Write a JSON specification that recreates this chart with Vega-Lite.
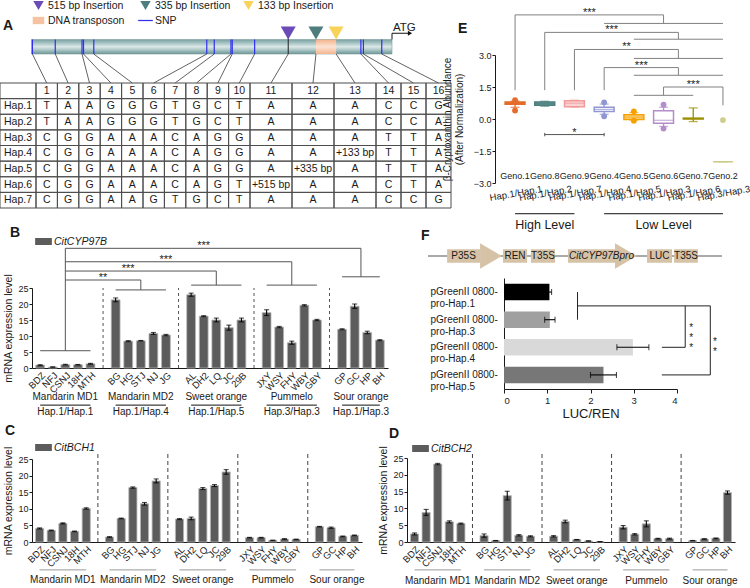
{
"$schema":"https://vega.github.io/schema/vega-lite/v6.json",
"width":750,"height":588,
"autosize":{"type":"none"},
"padding":0,
"background":"white",
"config":{
 "font":"Arial",
 "view":{"stroke":null},
 "axis":{"labelFont":"Arial","titleFont":"Arial","labelColor":"#1a1a1a","titleColor":"#1a1a1a","domainColor":"#1a1a1a","tickColor":"#1a1a1a","titleFontWeight":"normal","grid":false},
 "legend":{"labelFont":"Arial","labelColor":"#1a1a1a"},
 "text":{"font":"Arial","color":"#1a1a1a"}
},
"datasets":{
 "snps":[
  {"snp":1,"pos":0.40,"kind":"SNP"},{"snp":2,"pos":1.40,"kind":"SNP"},{"snp":3,"pos":2.65,"kind":"SNP"},{"snp":4,"pos":2.72,"kind":"SNP"},
  {"snp":5,"pos":3.20,"kind":"SNP"},{"snp":6,"pos":8.48,"kind":"SNP"},{"snp":7,"pos":8.83,"kind":"SNP"},{"snp":8,"pos":9.61,"kind":"SNP"},
  {"snp":9,"pos":9.67,"kind":"SNP"},{"snp":10,"pos":10.61,"kind":"SNP"},{"snp":11,"pos":11.41,"kind":"515 bp Insertion"},{"snp":12,"pos":12.07,"kind":"335 bp Insertion"},
  {"snp":13,"pos":12.55,"kind":"133 bp Insertion"},{"snp":14,"pos":13.14,"kind":"SNP"},{"snp":15,"pos":13.20,"kind":"SNP"},{"snp":16,"pos":13.73,"kind":"SNP"}
 ],
 "cells":[
  {"h":"Hap.1","s":1,"a":"T"},{"h":"Hap.1","s":2,"a":"A"},{"h":"Hap.1","s":3,"a":"A"},{"h":"Hap.1","s":4,"a":"G"},{"h":"Hap.1","s":5,"a":"G"},{"h":"Hap.1","s":6,"a":"G"},{"h":"Hap.1","s":7,"a":"T"},{"h":"Hap.1","s":8,"a":"G"},{"h":"Hap.1","s":9,"a":"C"},{"h":"Hap.1","s":10,"a":"T"},{"h":"Hap.1","s":11,"a":"A"},{"h":"Hap.1","s":12,"a":"A"},{"h":"Hap.1","s":13,"a":"A"},{"h":"Hap.1","s":14,"a":"C"},{"h":"Hap.1","s":15,"a":"C"},{"h":"Hap.1","s":16,"a":"G"},
  {"h":"Hap.2","s":1,"a":"T"},{"h":"Hap.2","s":2,"a":"A"},{"h":"Hap.2","s":3,"a":"A"},{"h":"Hap.2","s":4,"a":"G"},{"h":"Hap.2","s":5,"a":"G"},{"h":"Hap.2","s":6,"a":"G"},{"h":"Hap.2","s":7,"a":"T"},{"h":"Hap.2","s":8,"a":"G"},{"h":"Hap.2","s":9,"a":"C"},{"h":"Hap.2","s":10,"a":"T"},{"h":"Hap.2","s":11,"a":"A"},{"h":"Hap.2","s":12,"a":"A"},{"h":"Hap.2","s":13,"a":"A"},{"h":"Hap.2","s":14,"a":"C"},{"h":"Hap.2","s":15,"a":"C"},{"h":"Hap.2","s":16,"a":"A"},
  {"h":"Hap.3","s":1,"a":"C"},{"h":"Hap.3","s":2,"a":"G"},{"h":"Hap.3","s":3,"a":"G"},{"h":"Hap.3","s":4,"a":"A"},{"h":"Hap.3","s":5,"a":"A"},{"h":"Hap.3","s":6,"a":"A"},{"h":"Hap.3","s":7,"a":"C"},{"h":"Hap.3","s":8,"a":"A"},{"h":"Hap.3","s":9,"a":"G"},{"h":"Hap.3","s":10,"a":"G"},{"h":"Hap.3","s":11,"a":"A"},{"h":"Hap.3","s":12,"a":"A"},{"h":"Hap.3","s":13,"a":"A"},{"h":"Hap.3","s":14,"a":"T"},{"h":"Hap.3","s":15,"a":"T"},{"h":"Hap.3","s":16,"a":"A"},
  {"h":"Hap.4","s":1,"a":"C"},{"h":"Hap.4","s":2,"a":"G"},{"h":"Hap.4","s":3,"a":"G"},{"h":"Hap.4","s":4,"a":"A"},{"h":"Hap.4","s":5,"a":"A"},{"h":"Hap.4","s":6,"a":"A"},{"h":"Hap.4","s":7,"a":"C"},{"h":"Hap.4","s":8,"a":"A"},{"h":"Hap.4","s":9,"a":"G"},{"h":"Hap.4","s":10,"a":"G"},{"h":"Hap.4","s":11,"a":"A"},{"h":"Hap.4","s":12,"a":"A"},{"h":"Hap.4","s":13,"a":"+133 bp"},{"h":"Hap.4","s":14,"a":"T"},{"h":"Hap.4","s":15,"a":"T"},{"h":"Hap.4","s":16,"a":"A"},
  {"h":"Hap.5","s":1,"a":"C"},{"h":"Hap.5","s":2,"a":"G"},{"h":"Hap.5","s":3,"a":"G"},{"h":"Hap.5","s":4,"a":"A"},{"h":"Hap.5","s":5,"a":"A"},{"h":"Hap.5","s":6,"a":"A"},{"h":"Hap.5","s":7,"a":"C"},{"h":"Hap.5","s":8,"a":"A"},{"h":"Hap.5","s":9,"a":"G"},{"h":"Hap.5","s":10,"a":"G"},{"h":"Hap.5","s":11,"a":"A"},{"h":"Hap.5","s":12,"a":"+335 bp"},{"h":"Hap.5","s":13,"a":"A"},{"h":"Hap.5","s":14,"a":"T"},{"h":"Hap.5","s":15,"a":"T"},{"h":"Hap.5","s":16,"a":"A"},
  {"h":"Hap.6","s":1,"a":"C"},{"h":"Hap.6","s":2,"a":"G"},{"h":"Hap.6","s":3,"a":"G"},{"h":"Hap.6","s":4,"a":"A"},{"h":"Hap.6","s":5,"a":"A"},{"h":"Hap.6","s":6,"a":"A"},{"h":"Hap.6","s":7,"a":"C"},{"h":"Hap.6","s":8,"a":"A"},{"h":"Hap.6","s":9,"a":"G"},{"h":"Hap.6","s":10,"a":"T"},{"h":"Hap.6","s":11,"a":"+515 bp"},{"h":"Hap.6","s":12,"a":"A"},{"h":"Hap.6","s":13,"a":"A"},{"h":"Hap.6","s":14,"a":"C"},{"h":"Hap.6","s":15,"a":"T"},{"h":"Hap.6","s":16,"a":"A"},
  {"h":"Hap.7","s":1,"a":"C"},{"h":"Hap.7","s":2,"a":"G"},{"h":"Hap.7","s":3,"a":"G"},{"h":"Hap.7","s":4,"a":"A"},{"h":"Hap.7","s":5,"a":"A"},{"h":"Hap.7","s":6,"a":"G"},{"h":"Hap.7","s":7,"a":"T"},{"h":"Hap.7","s":8,"a":"G"},{"h":"Hap.7","s":9,"a":"C"},{"h":"Hap.7","s":10,"a":"T"},{"h":"Hap.7","s":11,"a":"A"},{"h":"Hap.7","s":12,"a":"A"},{"h":"Hap.7","s":13,"a":"A"},{"h":"Hap.7","s":14,"a":"C"},{"h":"Hap.7","s":15,"a":"C"},{"h":"Hap.7","s":16,"a":"G"}
 ],
 "haps":[{"h":"Hap.1"},{"h":"Hap.2"},{"h":"Hap.3"},{"h":"Hap.4"},{"h":"Hap.5"},{"h":"Hap.6"},{"h":"Hap.7"}],
 "ebox":[
  {"geno":"Geno.1","hap":"Hap.1/Hap.1","lo":0.55,"q1":0.69,"md":0.75,"q3":0.80,"hi":0.84},
  {"geno":"Geno.8","hap":"Hap.1/Hap.2","lo":0.60,"q1":0.64,"md":0.72,"q3":0.80,"hi":0.83},
  {"geno":"Geno.9","hap":"Hap.1/Hap.7","lo":0.56,"q1":0.58,"md":0.74,"q3":0.86,"hi":0.88},
  {"geno":"Geno.4","hap":"Hap.1/Hap.4","lo":0.22,"q1":0.35,"md":0.45,"q3":0.55,"hi":0.70},
  {"geno":"Geno.5","hap":"Hap.1/Hap.5","lo":-0.05,"q1":-0.02,"md":0.09,"q3":0.20,"hi":0.30},
  {"geno":"Geno.6","hap":"Hap.1/Hap.3","lo":-0.35,"q1":-0.20,"md":-0.06,"q3":0.39,"hi":0.55},
  {"geno":"Geno.7","hap":"Hap.1/Hap.6","lo":-0.12,"q1":0.0,"md":0.02,"q3":0.04,"hi":0.52},
  {"geno":"Geno.2","hap":"Hap.3/Hap.3","lo":-2.0,"q1":-2.0,"md":-2.0,"q3":-2.0,"hi":-2.0}
 ],
 "eout":[
  {"geno":"Geno.1","hap":"Hap.1/Hap.1","v":0.88},{"geno":"Geno.1","hap":"Hap.1/Hap.1","v":0.40},
  {"geno":"Geno.4","hap":"Hap.1/Hap.4","v":0.78},{"geno":"Geno.4","hap":"Hap.1/Hap.4","v":0.13},
  {"geno":"Geno.5","hap":"Hap.1/Hap.5","v":0.36},{"geno":"Geno.5","hap":"Hap.1/Hap.5","v":-0.08},
  {"geno":"Geno.6","hap":"Hap.1/Hap.3","v":0.67},{"geno":"Geno.6","hap":"Hap.1/Hap.3","v":-0.45},
  {"geno":"Geno.2","hap":"Hap.3/Hap.3","v":-0.05}
 ],
 "elev":[
  {"level":"High Level","from":"Hap.1/Hap.1","to":"Hap.1/Hap.7","mid":"Hap.1/Hap.2"},
  {"level":"Low Level","from":"Hap.1/Hap.4","to":"Hap.3/Hap.3","mid":"Hap.1/Hap.3"}
 ],
 "ebrk":[
  {"s":1,"g1":4,"g2":8,"h":4.88,"sl":1.35,"gl":4.48,"t":"***"},
  {"s":2,"g1":5,"g2":8,"h":4.06,"sl":1.35,"gl":3.74,"t":"***"},
  {"s":3,"g1":5,"g2":8,"h":3.26,"sl":1.35,"gl":2.84,"t":"**"},
  {"s":4,"g1":5,"g2":8,"h":2.41,"sl":1.35,"gl":2.05,"t":"***"},
  {"s":8,"g1":5,"g2":7,"h":1.50,"sl":0.64,"gl":1.11,"t":"***"}
 ],
 "expr":[
  {"gene":"CitCYP97B","cv":"BDZ","v":0.9,"e":0.1},{"gene":"CitCYP97B","cv":"NFJ","v":0.3,"e":0.05},{"gene":"CitCYP97B","cv":"CSNJ","v":1.05,"e":0.1},{"gene":"CitCYP97B","cv":"18H","v":1.0,"e":0.1},{"gene":"CitCYP97B","cv":"MTH","v":1.3,"e":0.15},
  {"gene":"CitCYP97B","cv":"BG","v":21.3,"e":0.6},{"gene":"CitCYP97B","cv":"HG","v":8.4,"e":0.15},{"gene":"CitCYP97B","cv":"STJ","v":8.5,"e":0.1},{"gene":"CitCYP97B","cv":"NJ","v":10.8,"e":0.3},{"gene":"CitCYP97B","cv":"JG","v":10.3,"e":0.2},
  {"gene":"CitCYP97B","cv":"AL","v":22.9,"e":0.5},{"gene":"CitCYP97B","cv":"DH2","v":16.2,"e":0.15},{"gene":"CitCYP97B","cv":"LQ","v":15.0,"e":0.6},{"gene":"CitCYP97B","cv":"JC","v":12.6,"e":0.8},{"gene":"CitCYP97B","cv":"29B","v":15.0,"e":0.6},
  {"gene":"CitCYP97B","cv":"JXY","v":17.3,"e":0.9},{"gene":"CitCYP97B","cv":"WSY","v":12.8,"e":0.2},{"gene":"CitCYP97B","cv":"FHY","v":7.9,"e":0.5},{"gene":"CitCYP97B","cv":"WBY","v":19.6,"e":0.2},{"gene":"CitCYP97B","cv":"GBY","v":15.0,"e":0.2},
  {"gene":"CitCYP97B","cv":"GP","v":12.1,"e":0.15},{"gene":"CitCYP97B","cv":"GC","v":19.3,"e":0.7},{"gene":"CitCYP97B","cv":"HP","v":11.1,"e":0.4},{"gene":"CitCYP97B","cv":"BH","v":8.7,"e":0.15},
  {"gene":"CitBCH1","cv":"BDZ","v":4.1,"e":0.15},{"gene":"CitBCH1","cv":"NFJ","v":3.5,"e":0.1},{"gene":"CitBCH1","cv":"CSNJ","v":5.6,"e":0.15},{"gene":"CitBCH1","cv":"18H","v":3.2,"e":0.1},{"gene":"CitBCH1","cv":"MTH","v":10.1,"e":0.2},
  {"gene":"CitBCH1","cv":"BG","v":1.5,"e":0.1},{"gene":"CitBCH1","cv":"HG","v":7.1,"e":0.1},{"gene":"CitBCH1","cv":"STJ","v":16.4,"e":0.2},{"gene":"CitBCH1","cv":"NJ","v":11.5,"e":0.4},{"gene":"CitBCH1","cv":"JG","v":18.4,"e":0.6},
  {"gene":"CitBCH1","cv":"AL","v":6.9,"e":0.15},{"gene":"CitBCH1","cv":"DH2","v":7.1,"e":0.4},{"gene":"CitBCH1","cv":"LQ","v":16.1,"e":0.3},{"gene":"CitBCH1","cv":"JC","v":17.0,"e":0.3},{"gene":"CitBCH1","cv":"29B","v":21.1,"e":0.7},
  {"gene":"CitBCH1","cv":"JXY","v":1.3,"e":0.1},{"gene":"CitBCH1","cv":"WSY","v":1.3,"e":0.1},{"gene":"CitBCH1","cv":"FHY","v":0.5,"e":0.05},{"gene":"CitBCH1","cv":"WBY","v":0.9,"e":0.1},{"gene":"CitBCH1","cv":"GBY","v":0.8,"e":0.05},
  {"gene":"CitBCH1","cv":"GP","v":4.6,"e":0.1},{"gene":"CitBCH1","cv":"GC","v":4.3,"e":0.2},{"gene":"CitBCH1","cv":"HP","v":1.7,"e":0.1},{"gene":"CitBCH1","cv":"BH","v":2.0,"e":0.1},
  {"gene":"CitBCH2","cv":"BDZ","v":2.4,"e":0.3},{"gene":"CitBCH2","cv":"NFJ","v":8.8,"e":0.9},{"gene":"CitBCH2","cv":"CSNJ","v":23.2,"e":0.2},{"gene":"CitBCH2","cv":"18H","v":6.0,"e":0.3},{"gene":"CitBCH2","cv":"MTH","v":5.5,"e":0.15},
  {"gene":"CitBCH2","cv":"BG","v":1.9,"e":0.5},{"gene":"CitBCH2","cv":"HG","v":0.4,"e":0.05},{"gene":"CitBCH2","cv":"STJ","v":13.8,"e":1.3},{"gene":"CitBCH2","cv":"NJ","v":2.0,"e":0.2},{"gene":"CitBCH2","cv":"JG","v":1.7,"e":0.15},
  {"gene":"CitBCH2","cv":"AL","v":1.7,"e":0.2},{"gene":"CitBCH2","cv":"DH2","v":6.1,"e":0.4},{"gene":"CitBCH2","cv":"LQ","v":0.7,"e":0.05},{"gene":"CitBCH2","cv":"JC","v":0.3,"e":0.05},{"gene":"CitBCH2","cv":"29B","v":0.1,"e":0.02},
  {"gene":"CitBCH2","cv":"JXY","v":4.4,"e":0.5},{"gene":"CitBCH2","cv":"WSY","v":2.3,"e":0.2},{"gene":"CitBCH2","cv":"FHY","v":5.4,"e":0.9},{"gene":"CitBCH2","cv":"WBY","v":1.0,"e":0.1},{"gene":"CitBCH2","cv":"GBY","v":1.0,"e":0.15},
  {"gene":"CitBCH2","cv":"GP","v":0.4,"e":0.05},{"gene":"CitBCH2","cv":"GC","v":0.9,"e":0.1},{"gene":"CitBCH2","cv":"HP","v":1.1,"e":0.1},{"gene":"CitBCH2","cv":"BH","v":14.7,"e":0.5}
 ],
 "seps":[{"sep":" "},{"sep":"  "},{"sep":"   "},{"sep":"    "}],
 "groups":[
  {"group":"Mandarin MD1","hap":"Hap.1/Hap.1","g1":"BDZ","mid":"CSNJ","g2":"MTH","n":5},
  {"group":"Mandarin MD2","hap":"Hap.1/Hap.4","g1":"BG","mid":"STJ","g2":"JG","n":5},
  {"group":"Sweet orange","hap":"Hap.1/Hap.5","g1":"AL","mid":"LQ","g2":"29B","n":5},
  {"group":"Pummelo","hap":"Hap.3/Hap.3","g1":"JXY","mid":"FHY","g2":"GBY","n":5},
  {"group":"Sour orange","hap":"Hap.1/Hap.3","g1":"GP","mid":"GC","g2":"BH","n":4}
 ],
 "bbrk":[
  {"s":"CSNJ","c":"GC","n":4,"h":37.4,"gl":28.5,"g1":"GP","g2":"BH","t":"***","ta":"DH2"},
  {"s":"CSNJ","c":"FHY","n":5,"h":33.2,"gl":25.9,"g1":"JXY","g2":"GBY","t":"***","ta":"JG"},
  {"s":"CSNJ","c":"LQ","n":5,"h":30.3,"gl":25.9,"g1":"AL","g2":"29B","t":"***","ta":"HG"},
  {"s":"CSNJ","c":"STJ","n":5,"h":27.5,"gl":24.4,"g1":"BG","g2":"JG","t":"**","ta":" "}
 ],
 "luc":[
  {"con":"pGreenII 0800-pro-Hap.1","m":1.05,"e":0.05},
  {"con":"pGreenII 0800-pro-Hap.3","m":1.06,"e":0.12},
  {"con":"pGreenII 0800-pro-Hap.4","m":2.98,"e":0.37},
  {"con":"pGreenII 0800-pro-Hap.5","m":2.3,"e":0.3}
 ],
 "fparts":[
  {"part":"P35S","kind":"promoter","start":6.5,"end":17.7},
  {"part":"REN","kind":"gene","start":25.5,"end":33.7},
  {"part":"T35S","kind":"terminator","start":35,"end":43.2},
  {"part":"CitCYP97Bpro","kind":"promoter","start":47.6,"end":63.6},
  {"part":"LUC","kind":"gene","start":74.5,"end":83},
  {"part":"T35S","kind":"terminator","start":83.7,"end":91.8}
 ]
},
"resolve":{"scale":{"x":"independent","y":"independent","color":"independent","fill":"independent","stroke":"independent","shape":"independent"},"axis":{"x":"independent","y":"independent"},"legend":{"color":"independent","shape":"independent","fill":"independent","stroke":"independent"}},
"layer":[
 {"layer":[
   {"data":{"values":[{"part":"promoter","start":0.375,"end":14.14}]},
    "mark":{"type":"rect","fill":{"gradient":"linear","x1":0,"y1":0,"x2":0,"y2":1,"stops":[{"offset":0,"color":"#76a0a0"},{"offset":0.25,"color":"#a8c4c4"},{"offset":0.5,"color":"#dce8e8"},{"offset":0.78,"color":"#9ebcbc"},{"offset":1,"color":"#6a9494"}]},"stroke":"#7e9f9f","strokeWidth":0.6},
    "encoding":{
     "x":{"field":"start","type":"quantitative","scale":{"type":"linear","domain":[-0.5,0.5,10.5,13.5,16.5],"range":[0,36,250,376,451],"nice":false,"zero":false},"axis":null},
     "x2":{"field":"end"},
     "y":{"datum":1,"type":"quantitative","scale":{"domain":[0,4],"range":[25,83],"nice":false,"zero":false},"axis":null},
     "y2":{"datum":2}}},
   {"data":{"values":[{"part":"DNA transposon","start":12.07,"end":12.55}]},
    "mark":{"type":"rect","fill":{"gradient":"linear","x1":0,"y1":0,"x2":0,"y2":1,"stops":[{"offset":0,"color":"#f2b38c"},{"offset":0.5,"color":"#fde3d3"},{"offset":1,"color":"#f2b58f"}]}},
    "encoding":{"x":{"field":"start","type":"quantitative"},"x2":{"field":"end"},"y":{"datum":1,"type":"quantitative"},"y2":{"datum":2}}},
   {"data":{"name":"snps"},"transform":[{"filter":"datum.kind == 'SNP'"}],
    "mark":{"type":"rule","color":"#3030ee","strokeWidth":1.2},
    "encoding":{"x":{"field":"pos","type":"quantitative"},"y":{"datum":1,"type":"quantitative"},"y2":{"datum":2}}},
   {"data":{"name":"snps"},
    "mark":{"type":"rule","color":"#3a3a3a","strokeWidth":0.8},
    "encoding":{"x":{"field":"pos","type":"quantitative"},"x2":{"field":"snp"},"y":{"datum":2,"type":"quantitative"},"y2":{"datum":4}}},
   {"data":{"name":"snps"},"transform":[{"filter":"datum.kind == '515 bp Insertion'"}],
    "mark":{"type":"rule","color":"#222222","strokeWidth":1},
    "encoding":{"x":{"field":"pos","type":"quantitative"},"y":{"datum":0.6,"type":"quantitative"},"y2":{"datum":2}}},
   {"data":{"name":"snps"},"transform":[{"filter":"datum.kind != 'SNP'"}],
    "mark":{"type":"point","filled":true,"opacity":1,"size":225,"strokeWidth":0},
    "encoding":{
     "x":{"field":"pos","type":"quantitative"},
     "y":{"datum":0.55,"type":"quantitative"},
     "color":{"field":"kind","type":"nominal","scale":{"domain":["515 bp Insertion","335 bp Insertion","133 bp Insertion","DNA transposon","SNP"],"range":["#6b4bb8","#4f7d7d","#f8d35a","#f5c2a2","#3030ee"]},
      "legend":{"title":null,"orient":"none","legendX":33,"legendY":0,"direction":"horizontal","columns":3,"symbolSize":110,"labelFontSize":10.5,"columnPadding":12,"rowPadding":4,"labelOffset":4,"padding":0,"symbolStrokeWidth":0}},
     "shape":{"field":"kind","type":"nominal","scale":{"domain":["515 bp Insertion","335 bp Insertion","133 bp Insertion","DNA transposon","SNP"],"range":["triangle-down","triangle-down","triangle-down","M-1.1,-0.7H1.1V0.7H-1.1Z","M-1.4,-0.12H1.4V0.12H-1.4Z"]},
      "legend":{"title":null,"orient":"none","legendX":33,"legendY":0,"direction":"horizontal","columns":3,"symbolSize":110,"labelFontSize":10.5,"columnPadding":12,"rowPadding":4,"labelOffset":4,"padding":0,"symbolStrokeWidth":0}}}},
   {"data":{"values":[{"label":"ATG","start":14.14,"end":14.86}]},
    "layer":[
     {"mark":{"type":"rule","color":"#111111","strokeWidth":1},"encoding":{"x":{"field":"start","type":"quantitative"},"y":{"datum":1,"type":"quantitative"},"y2":{"datum":0.57}}},
     {"mark":{"type":"rule","color":"#111111","strokeWidth":1},"encoding":{"x":{"field":"start","type":"quantitative"},"x2":{"field":"end"},"y":{"datum":0.57,"type":"quantitative"}}},
     {"mark":{"type":"point","shape":"triangle-right","filled":true,"color":"#111111","opacity":1,"size":24},"encoding":{"x":{"field":"end","type":"quantitative"},"y":{"datum":0.57,"type":"quantitative"}}},
     {"mark":{"type":"text","fontSize":11.5,"align":"left","baseline":"alphabetic","dx":1},"encoding":{"x":{"field":"start","type":"quantitative"},"y":{"datum":0.42,"type":"quantitative"},"text":{"field":"label"}}}
    ]},
   {"data":{"values":[{"panel":"A"}]},"mark":{"type":"text","fontSize":14,"fontWeight":"bold","align":"left","baseline":"alphabetic"},
    "encoding":{"x":{"datum":-0.417,"type":"quantitative"},"y":{"datum":0.345,"type":"quantitative"},"text":{"field":"panel"}}}
 ]},
 {"layer":[
   {"data":{"name":"cells"},"transform":[{"calculate":"datum.s - 0.5","as":"x0"},{"calculate":"datum.s + 0.5","as":"x1"}],
    "mark":{"type":"rect","filled":false,"color":"#4d4d4d","strokeWidth":1},
    "encoding":{
     "x":{"field":"x0","type":"quantitative","scale":{"type":"linear","domain":[-0.5,0.5,10.5,13.5,16.5],"range":[0,36,250,376,451],"nice":false,"zero":false},"axis":null},
     "x2":{"field":"x1"},
     "y":{"field":"h","type":"ordinal","scale":{"domain":["#","Hap.1","Hap.2","Hap.3","Hap.4","Hap.5","Hap.6","Hap.7"],"range":[83,208],"paddingInner":0,"paddingOuter":0},"axis":null}}},
   {"data":{"name":"snps"},"transform":[{"calculate":"datum.snp - 0.5","as":"x0"},{"calculate":"datum.snp + 0.5","as":"x1"}],
    "mark":{"type":"rect","filled":false,"color":"#4d4d4d","strokeWidth":1},
    "encoding":{"x":{"field":"x0","type":"quantitative"},"x2":{"field":"x1"},"y":{"datum":"#","type":"ordinal"}}},
   {"data":{"name":"haps"},
    "mark":{"type":"rect","filled":false,"color":"#4d4d4d","strokeWidth":1},
    "encoding":{"x":{"datum":-0.5,"type":"quantitative"},"x2":{"datum":0.5},"y":{"field":"h","type":"ordinal"}}},
   {"data":{"values":[{"c":"#"}]},
    "mark":{"type":"rect","filled":false,"color":"#4d4d4d","strokeWidth":1},
    "encoding":{"x":{"datum":-0.5,"type":"quantitative"},"x2":{"datum":0.5},"y":{"field":"c","type":"ordinal"}}},
   {"data":{"name":"cells"},"mark":{"type":"text","fontSize":10.5,"baseline":"middle"},
    "encoding":{"x":{"field":"s","type":"quantitative"},"y":{"field":"h","type":"ordinal"},"text":{"field":"a"}}},
   {"data":{"name":"snps"},"mark":{"type":"text","fontSize":10.5,"baseline":"middle"},
    "encoding":{"x":{"field":"snp","type":"quantitative"},"y":{"datum":"#","type":"ordinal"},"text":{"field":"snp"}}},
   {"data":{"name":"haps"},"mark":{"type":"text","fontSize":10.5,"baseline":"middle"},
    "encoding":{"x":{"datum":0,"type":"quantitative"},"y":{"field":"h","type":"ordinal"},"text":{"field":"h"}}}
 ]},
 {"layer":[
   {"layer":[
    {"data":{"name":"ebox"},
     "layer":[
      {"mark":{"type":"rule","strokeWidth":1.3},
       "encoding":{
        "x":{"field":"hap","type":"nominal","scale":{"domain":["Hap.1/Hap.1","Hap.1/Hap.2","Hap.1/Hap.7","Hap.1/Hap.4","Hap.1/Hap.5","Hap.1/Hap.3","Hap.1/Hap.6","Hap.3/Hap.3"],"range":[495,743],"paddingInner":0.33,"paddingOuter":0.34},
             "axis":{"orient":"bottom","offset":-405,"title":null,"labelAngle":-10,"labelAlign":"center","labelBaseline":"top","labelPadding":5,"labelFontSize":9.5,"ticks":false,"domain":false,"labelDx":-6}},
        "y":{"field":"lo","type":"quantitative","scale":{"domain":[-3,3],"range":[183,55],"nice":false,"zero":false},
             "axis":{"orient":"left","offset":-495,"values":[-3,-1.5,0,1.5,3],"format":".1f","title":["β-Cryptoxanthin Abundance","(After Normalization)"],"titleFontSize":10,"titleLineHeight":12,"labelFontSize":9,"tickSize":3,"labelPadding":1,"titlePadding":9}},
        "y2":{"field":"hi"},
        "color":{"field":"geno","type":"nominal","scale":{"domain":["Geno.1","Geno.8","Geno.9","Geno.4","Geno.5","Geno.6","Geno.7","Geno.2"],"range":["#e46c2c","#4e7f7f","#f09a9a","#9096d2","#f5a100","#b48ecb","#9c9000","#cdcd8c"]},"legend":null}}},
      {"mark":{"type":"tick","thickness":1.3,"size":9},"encoding":{"x":{"field":"hap","type":"nominal"},"y":{"field":"hi","type":"quantitative"},"color":{"field":"geno","type":"nominal"}}},
      {"mark":{"type":"tick","thickness":1.3,"size":9},"encoding":{"x":{"field":"hap","type":"nominal"},"y":{"field":"lo","type":"quantitative"},"color":{"field":"geno","type":"nominal"}}},
      {"mark":{"type":"bar","strokeWidth":1.5},
       "encoding":{"x":{"field":"hap","type":"nominal"},"y":{"field":"q1","type":"quantitative"},"y2":{"field":"q3"},
        "fill":{"field":"geno","type":"nominal","scale":{"domain":["Geno.1","Geno.8","Geno.9","Geno.4","Geno.5","Geno.6","Geno.7","Geno.2"],"range":["#e46c2c","#6a9696","#fcd3d3","#ffffff","#fbd590","#ffffff","#9c9000","#cdcd8c"]},"legend":null},
        "stroke":{"field":"geno","type":"nominal","scale":{"domain":["Geno.1","Geno.8","Geno.9","Geno.4","Geno.5","Geno.6","Geno.7","Geno.2"],"range":["#e46c2c","#4e7f7f","#f09a9a","#9096d2","#f5a100","#b48ecb","#9c9000","#cdcd8c"]},"legend":null}}},
      {"mark":{"type":"tick","thickness":1.2,"size":20},"encoding":{"x":{"field":"hap","type":"nominal"},"y":{"field":"md","type":"quantitative"},"color":{"field":"geno","type":"nominal"}}},
      {"mark":{"type":"text","fontSize":9,"baseline":"middle"},"encoding":{"x":{"field":"hap","type":"nominal"},"y":{"datum":-2.65,"type":"quantitative"},"text":{"field":"geno"}}}
     ]},
    {"data":{"name":"eout"},"mark":{"type":"point","filled":true,"opacity":1,"size":34},
     "encoding":{"x":{"field":"hap","type":"nominal"},"y":{"field":"v","type":"quantitative"},"color":{"field":"geno","type":"nominal"}}},
    {"data":{"name":"elev"},
     "layer":[
      {"mark":{"type":"rule","color":"#111111","strokeWidth":1},"encoding":{"x":{"field":"from","type":"nominal"},"x2":{"field":"to"},"y":{"datum":-4.44,"type":"quantitative"}}},
      {"mark":{"type":"text","fontSize":12.5,"baseline":"middle"},"encoding":{"x":{"field":"mid","type":"nominal"},"y":{"datum":-4.95,"type":"quantitative"},"text":{"field":"level"}}}
     ]}
   ]},
   {"layer":[
    {"data":{"name":"ebrk"},
     "transform":[{"calculate":"(datum.g1+datum.g2)/2","as":"c"},{"calculate":"(datum.s+datum.c)/2","as":"m"}],
     "layer":[
      {"mark":{"type":"rule","color":"#808080","strokeWidth":1},"encoding":{"x":{"field":"s","type":"quantitative","scale":{"domain":[0.325,8.675],"range":[495,743],"nice":false,"zero":false},"axis":null},"y":{"field":"h","type":"quantitative"},"y2":{"field":"sl"}}},
      {"mark":{"type":"rule","color":"#808080","strokeWidth":1},"encoding":{"x":{"field":"s","type":"quantitative"},"x2":{"field":"c"},"y":{"field":"h","type":"quantitative"}}},
      {"mark":{"type":"rule","color":"#808080","strokeWidth":1},"encoding":{"x":{"field":"c","type":"quantitative"},"y":{"field":"h","type":"quantitative"},"y2":{"field":"gl"}}},
      {"mark":{"type":"rule","color":"#808080","strokeWidth":1},"encoding":{"x":{"field":"g1","type":"quantitative"},"x2":{"field":"g2"},"y":{"field":"gl","type":"quantitative"}}},
      {"mark":{"type":"text","fontSize":11,"baseline":"alphabetic","dy":1},"encoding":{"x":{"field":"m","type":"quantitative"},"y":{"field":"h","type":"quantitative"},"text":{"field":"t"}}}
     ]},
    {"data":{"values":[{"s":2,"e":4,"h":-0.73,"c1":-0.65,"c2":-0.81,"t":"*"}]},
     "transform":[{"calculate":"(datum.s+datum.e)/2","as":"m"}],
     "layer":[
      {"mark":{"type":"rule","color":"#555555","strokeWidth":1},"encoding":{"x":{"field":"s","type":"quantitative"},"x2":{"field":"e"},"y":{"field":"h","type":"quantitative"}}},
      {"mark":{"type":"rule","color":"#555555","strokeWidth":1},"encoding":{"x":{"field":"s","type":"quantitative"},"y":{"field":"c1","type":"quantitative"},"y2":{"field":"c2"}}},
      {"mark":{"type":"rule","color":"#555555","strokeWidth":1},"encoding":{"x":{"field":"e","type":"quantitative"},"y":{"field":"c1","type":"quantitative"},"y2":{"field":"c2"}}},
      {"mark":{"type":"text","fontSize":11,"baseline":"alphabetic","dy":1},"encoding":{"x":{"field":"m","type":"quantitative"},"y":{"field":"h","type":"quantitative"},"text":{"field":"t"}}}
     ]},
    {"data":{"values":[{"panel":"E"}]},"mark":{"type":"text","fontSize":14,"fontWeight":"bold","align":"left","baseline":"alphabetic"},
     "encoding":{"x":{"datum":-0.92,"type":"quantitative"},"y":{"datum":4.03,"type":"quantitative"},"text":{"field":"panel"}}}
   ]}
  ],
  "resolve":{"scale":{"x":"independent"},"axis":{"x":"independent"}}},
 {"layer":[
   {"data":{"name":"seps"},"mark":{"type":"rule","strokeDash":[3,3],"color":"#555555","strokeWidth":1},
    "encoding":{"x":{"field":"sep","type":"nominal","scale":{"domain":["BDZ","NFJ","CSNJ","18H","MTH"," ","BG","HG","STJ","NJ","JG","  ","AL","DH2","LQ","JC","29B","   ","JXY","WSY","FHY","WBY","GBY","    ","GP","GC","HP","BH"],"range":[32,388],"paddingInner":0.3,"paddingOuter":0.3},
     "axis":{"orient":"bottom","offset":-220,"title":null,"labelAngle":-45,"labelFontSize":9.5,"ticks":false,"labelPadding":2}},
     "y":{"datum":0,"type":"quantitative"},"y2":{"datum":25}}},
   {"data":{"name":"expr"},"transform":[{"filter":"datum.gene == 'CitCYP97B'"}],
    "layer":[
     {"mark":{"type":"bar","stroke":"#b8b8b8","strokeWidth":0.8},
      "encoding":{"x":{"field":"cv","type":"nominal"},
       "y":{"field":"v","type":"quantitative","title":"mRNA expression level","scale":{"domain":[0,25],"range":[368,288],"nice":false},"axis":{"orient":"left","offset":-32,"values":[0,5,10,15,20,25],"title":"mRNA expression level","titleFontSize":10.5,"labelFontSize":9,"tickSize":3,"labelPadding":1,"titlePadding":4}},
       "color":{"datum":"CitCYP97B","scale":{"range":["#5c5c5c"]},"legend":{"title":null,"orient":"none","legendX":35,"legendY":233,"symbolType":"M-1,-0.42H1V0.42H-1Z","symbolSize":280,"labelFontSize":10.5,"labelFontStyle":"italic","labelOffset":2,"padding":0,"symbolStrokeWidth":0}}}},
     {"mark":{"type":"errorbar","ticks":{"size":5,"color":"#000000"},"color":"#000000","thickness":1.1},
      "encoding":{"x":{"field":"cv","type":"nominal"},"y":{"field":"v","type":"quantitative","title":"mRNA expression level"},"yError":{"field":"e"}}}
    ]},
   {"data":{"name":"bbrk"},
    "layer":[
     {"transform":[{"filter":"datum.n == 5"}],"mark":{"type":"rule","color":"#555555"},"encoding":{"x":{"field":"s","type":"nominal"},"x2":{"field":"c"},"y":{"field":"h","type":"quantitative"}}},
     {"transform":[{"filter":"datum.n == 5"}],"mark":{"type":"rule","color":"#555555"},"encoding":{"x":{"field":"c","type":"nominal"},"y":{"field":"h","type":"quantitative"},"y2":{"field":"gl"}}},
     {"transform":[{"filter":"datum.n == 4"}],"mark":{"type":"rule","color":"#555555"},"encoding":{"x":{"field":"c","type":"nominal","bandPosition":1.214},"x2":{"field":"s"},"y":{"field":"h","type":"quantitative"}}},
     {"transform":[{"filter":"datum.n == 4"}],"mark":{"type":"rule","color":"#555555"},"encoding":{"x":{"field":"c","type":"nominal","bandPosition":1.214},"y":{"field":"h","type":"quantitative"},"y2":{"field":"gl"}}},
     {"mark":{"type":"rule","color":"#555555"},"encoding":{"x":{"field":"g1","type":"nominal"},"x2":{"field":"g2"},"y":{"field":"gl","type":"quantitative"}}},
     {"mark":{"type":"text","fontSize":11,"baseline":"alphabetic","dy":1},"encoding":{"x":{"field":"ta","type":"nominal"},"y":{"field":"h","type":"quantitative"},"text":{"field":"t"}}}
    ]},
   {"data":{"values":[{"s":"CSNJ","top":37.4,"bot":5.4,"g1":"BDZ","g2":"MTH"}]},
    "layer":[
     {"mark":{"type":"rule","color":"#555555"},"encoding":{"x":{"field":"s","type":"nominal"},"y":{"field":"top","type":"quantitative"},"y2":{"field":"bot"}}},
     {"mark":{"type":"rule","color":"#555555"},"encoding":{"x":{"field":"g1","type":"nominal"},"x2":{"field":"g2"},"y":{"field":"bot","type":"quantitative"}}}
    ]},
   {"data":{"name":"groups"},
    "layer":[
     {"transform":[{"filter":"datum.n == 5"}],"mark":{"type":"text","fontSize":10,"baseline":"middle"},"encoding":{"x":{"field":"mid","type":"nominal"},"y":{"datum":-9.1,"type":"quantitative"},"text":{"field":"group"}}},
     {"transform":[{"filter":"datum.n == 4"}],"mark":{"type":"text","fontSize":10,"baseline":"middle"},"encoding":{"x":{"field":"mid","type":"nominal","bandPosition":1.214},"y":{"datum":-9.1,"type":"quantitative"},"text":{"field":"group"}}},
     {"transform":[{"filter":"datum.n == 5"}],"mark":{"type":"text","fontSize":10,"baseline":"middle"},"encoding":{"x":{"field":"mid","type":"nominal"},"y":{"datum":-13.8,"type":"quantitative"},"text":{"field":"hap"}}},
     {"transform":[{"filter":"datum.n == 4"}],"mark":{"type":"text","fontSize":10,"baseline":"middle"},"encoding":{"x":{"field":"mid","type":"nominal","bandPosition":1.214},"y":{"datum":-13.8,"type":"quantitative"},"text":{"field":"hap"}}},
     {"mark":{"type":"rule","color":"#111111","strokeWidth":1},"encoding":{"x":{"field":"g1","type":"nominal"},"x2":{"field":"g2"},"y":{"datum":-11.6,"type":"quantitative"}}}
    ]},
   {"data":{"values":[{"panel":"B"}]},"mark":{"type":"text","fontSize":14,"fontWeight":"bold","align":"left","baseline":"alphabetic"},
    "encoding":{"x":{"datum":"BDZ","type":"nominal","bandPosition":-2.93},"y":{"datum":40.9,"type":"quantitative"},"text":{"field":"panel"}}}
 ]},
 {"data":{"name":"fparts"},
  "layer":[
   {"data":{"values":[{"from":0,"to":100}]},"mark":{"type":"rule","color":"#555555","strokeWidth":1},
    "encoding":{"x":{"field":"from","type":"quantitative","scale":{"domain":[0,100],"range":[428,722],"nice":false,"zero":false},"axis":null},"x2":{"field":"to"},
     "y":{"datum":0.5,"type":"quantitative","scale":{"domain":[0,1],"range":[269,243],"nice":false,"zero":false},"axis":null}}},
   {"mark":{"type":"rect","fill":"#d6c2a6"},"encoding":{"x":{"field":"start","type":"quantitative"},"x2":{"field":"end"},"y":{"datum":0.24,"type":"quantitative"},"y2":{"datum":0.76}}},
   {"transform":[{"filter":"datum.kind == 'promoter'"}],"mark":{"type":"point","shape":"M0,-1.17L2,0L0,1.17Z","filled":true,"color":"#d6c2a6","opacity":1,"size":475,"strokeWidth":0},
    "encoding":{"x":{"field":"end","type":"quantitative"},"y":{"datum":0.5,"type":"quantitative"}}},
   {"transform":[{"filter":"datum.part != 'CitCYP97Bpro'"},{"calculate":"(datum.start+datum.end)/2","as":"mid"}],"mark":{"type":"text","fontSize":10,"baseline":"middle"},
    "encoding":{"x":{"field":"mid","type":"quantitative"},"y":{"datum":0.5,"type":"quantitative"},"text":{"field":"part"}}},
   {"transform":[{"filter":"datum.part == 'CitCYP97Bpro'"},{"calculate":"(datum.start+datum.end)/2","as":"mid"}],"mark":{"type":"text","fontSize":10,"baseline":"middle","fontStyle":"italic","dx":10},
    "encoding":{"x":{"field":"mid","type":"quantitative"},"y":{"datum":0.5,"type":"quantitative"},"text":{"field":"part"}}},
   {"data":{"values":[{"panel":"F"}]},"mark":{"type":"text","fontSize":14,"fontWeight":"bold","align":"left","baseline":"alphabetic"},
    "encoding":{"x":{"datum":-2.4,"type":"quantitative"},"y":{"datum":1.115,"type":"quantitative"},"text":{"field":"panel"}}}
 ]},
 {"layer":[
   {"data":{"name":"luc"},
    "layer":[
     {"mark":{"type":"bar"},
      "encoding":{
       "y":{"field":"con","type":"nominal","scale":{"domain":["pGreenII 0800-pro-Hap.1","pGreenII 0800-pro-Hap.3","pGreenII 0800-pro-Hap.4","pGreenII 0800-pro-Hap.5"],"range":[278,389],"paddingInner":0.4,"paddingOuter":0.21},
            "axis":{"orient":"left","offset":-504,"title":null,"labelExpr":"['pGreenII 0800-', slice(datum.label, 14)]","labelAlign":"left","labelPadding":74,"tickSize":0,"ticks":false,"labelFontSize":10,"labelBaseline":"middle","labelLineHeight":12}},
       "x":{"field":"m","type":"quantitative","title":"LUC/REN","scale":{"domain":[0,4],"range":[504,677],"nice":false},"axis":{"orient":"bottom","offset":-199,"values":[0,1,2,3,4],"format":"d","title":"LUC/REN","titleFontSize":13,"labelFontSize":9.5,"tickSize":4,"titlePadding":3}},
       "color":{"field":"con","type":"nominal","scale":{"domain":["pGreenII 0800-pro-Hap.1","pGreenII 0800-pro-Hap.3","pGreenII 0800-pro-Hap.4","pGreenII 0800-pro-Hap.5"],"range":["#000000","#a0a0a0","#d9d9d9","#777777"]},"legend":null}}},
     {"mark":{"type":"errorbar","ticks":{"size":6,"color":"#000000"},"color":"#000000","thickness":1.1},
      "encoding":{"y":{"field":"con","type":"nominal"},"x":{"field":"m","type":"quantitative","title":"LUC/REN"},"xError":{"field":"e"}}}
    ]},
   {"data":{"values":[{"cmp":"sig"}]},
    "layer":[
     {"mark":{"type":"rule","color":"#222222"},"encoding":{"x":{"datum":1.7,"type":"quantitative"},"y":{"datum":"pGreenII 0800-pro-Hap.1","type":"nominal"},"y2":{"datum":"pGreenII 0800-pro-Hap.3"}}},
     {"mark":{"type":"rule","color":"#222222"},"encoding":{"x":{"datum":1.7,"type":"quantitative"},"x2":{"datum":4.77},"y":{"datum":"pGreenII 0800-pro-Hap.1","type":"nominal","bandPosition":1.333}}},
     {"mark":{"type":"rule","color":"#222222"},"encoding":{"x":{"datum":4.19,"type":"quantitative"},"y":{"datum":"pGreenII 0800-pro-Hap.1","type":"nominal","bandPosition":1.333},"y2":{"datum":"pGreenII 0800-pro-Hap.4"}}},
     {"mark":{"type":"rule","color":"#222222"},"encoding":{"x":{"datum":3.65,"type":"quantitative"},"x2":{"datum":4.19},"y":{"datum":"pGreenII 0800-pro-Hap.4","type":"nominal"}}},
     {"mark":{"type":"rule","color":"#222222"},"encoding":{"x":{"datum":4.77,"type":"quantitative"},"y":{"datum":"pGreenII 0800-pro-Hap.1","type":"nominal","bandPosition":1.333},"y2":{"datum":"pGreenII 0800-pro-Hap.5"}}},
     {"mark":{"type":"rule","color":"#222222"},"encoding":{"x":{"datum":3.65,"type":"quantitative"},"x2":{"datum":4.77},"y":{"datum":"pGreenII 0800-pro-Hap.5","type":"nominal"}}},
     {"mark":{"type":"text","fontSize":10,"baseline":"middle","lineHeight":10},"encoding":{"x":{"datum":4.33,"type":"quantitative"},"y":{"datum":"pGreenII 0800-pro-Hap.3","type":"nominal","bandPosition":1.0},"text":{"value":["*","*","*"]}}},
     {"mark":{"type":"text","fontSize":10,"baseline":"middle","lineHeight":10},"encoding":{"x":{"datum":4.88,"type":"quantitative"},"y":{"datum":"pGreenII 0800-pro-Hap.4","type":"nominal","bandPosition":0.2},"text":{"value":["*","*"]}}}
    ]}
 ]},
 {"layer":[
   {"data":{"name":"seps"},"mark":{"type":"rule","strokeDash":[4,3],"color":"#444444","strokeWidth":1},
    "encoding":{"x":{"field":"sep","type":"nominal","scale":{"domain":["BDZ","NFJ","CSNJ","18H","MTH"," ","BG","HG","STJ","NJ","JG","  ","AL","DH2","LQ","JC","29B","   ","JXY","WSY","FHY","WBY","GBY","    ","GP","GC","HP","BH"],"range":[32,362],"paddingInner":0.3,"paddingOuter":0.3},
     "axis":{"orient":"bottom","offset":-46,"title":null,"labelAngle":-45,"labelFontSize":9.5,"ticks":false,"labelPadding":2}},
     "y":{"datum":0,"type":"quantitative"},"y2":{"datum":26.5}}},
   {"data":{"name":"expr"},"transform":[{"filter":"datum.gene == 'CitBCH1'"}],
    "layer":[
     {"mark":{"type":"bar","stroke":"#b8b8b8","strokeWidth":0.8},
      "encoding":{"x":{"field":"cv","type":"nominal"},
       "y":{"field":"v","type":"quantitative","title":"mRNA expression level","scale":{"domain":[0,25],"range":[542,459],"nice":false},"axis":{"orient":"left","offset":-32,"values":[0,5,10,15,20,25],"title":"mRNA expression level","titleFontSize":10.5,"labelFontSize":9,"tickSize":3,"labelPadding":1,"titlePadding":4}},
       "color":{"datum":"CitBCH1","scale":{"range":["#5c5c5c"]},"legend":{"title":null,"orient":"none","legendX":35,"legendY":439,"symbolType":"M-1,-0.42H1V0.42H-1Z","symbolSize":280,"labelFontSize":10.5,"labelFontStyle":"italic","labelOffset":2,"padding":0,"symbolStrokeWidth":0}}}},
     {"mark":{"type":"errorbar","ticks":{"size":5,"color":"#000000"},"color":"#000000","thickness":1.1},
      "encoding":{"x":{"field":"cv","type":"nominal"},"y":{"field":"v","type":"quantitative","title":"mRNA expression level"},"yError":{"field":"e"}}}
    ]},
   {"data":{"name":"groups"},
    "layer":[
     {"transform":[{"filter":"datum.n == 5"}],"mark":{"type":"text","fontSize":10,"baseline":"middle"},"encoding":{"x":{"field":"mid","type":"nominal"},"y":{"datum":-11.4,"type":"quantitative"},"text":{"field":"group"}}},
     {"transform":[{"filter":"datum.n == 4"}],"mark":{"type":"text","fontSize":10,"baseline":"middle"},"encoding":{"x":{"field":"mid","type":"nominal","bandPosition":1.214},"y":{"datum":-11.4,"type":"quantitative"},"text":{"field":"group"}}},
     {"mark":{"type":"rule","color":"#999999","strokeWidth":1},"encoding":{"x":{"field":"g1","type":"nominal"},"x2":{"field":"g2"},"y":{"datum":-8.4,"type":"quantitative"}}}
    ]},
   {"data":{"values":[{"panel":"C"}]},"mark":{"type":"text","fontSize":14,"fontWeight":"bold","align":"left","baseline":"alphabetic"},
    "encoding":{"x":{"datum":"BDZ","type":"nominal","bandPosition":-3.74},"y":{"datum":32.2,"type":"quantitative"},"text":{"field":"panel"}}}
 ]},
 {"layer":[
   {"data":{"name":"seps"},"mark":{"type":"rule","strokeDash":[4,3],"color":"#444444","strokeWidth":1},
    "encoding":{"x":{"field":"sep","type":"nominal","scale":{"domain":["BDZ","NFJ","CSNJ","18H","MTH"," ","BG","HG","STJ","NJ","JG","  ","AL","DH2","LQ","JC","29B","   ","JXY","WSY","FHY","WBY","GBY","    ","GP","GC","HP","BH"],"range":[407,735],"paddingInner":0.3,"paddingOuter":0.3},
     "axis":{"orient":"bottom","offset":-46,"title":null,"labelAngle":-45,"labelFontSize":9.5,"ticks":false,"labelPadding":2}},
     "y":{"datum":0,"type":"quantitative"},"y2":{"datum":26.5}}},
   {"data":{"name":"expr"},"transform":[{"filter":"datum.gene == 'CitBCH2'"}],
    "layer":[
     {"mark":{"type":"bar","stroke":"#b8b8b8","strokeWidth":0.8},
      "encoding":{"x":{"field":"cv","type":"nominal"},
       "y":{"field":"v","type":"quantitative","title":"mRNA expression level","scale":{"domain":[0,25],"range":[542,458],"nice":false},"axis":{"orient":"left","offset":-407,"values":[0,5,10,15,20,25],"title":"mRNA expression level","titleFontSize":10.5,"labelFontSize":9,"tickSize":3,"labelPadding":1,"titlePadding":4}},
       "color":{"datum":"CitBCH2","scale":{"range":["#5c5c5c"]},"legend":{"title":null,"orient":"none","legendX":412,"legendY":440,"symbolType":"M-1,-0.42H1V0.42H-1Z","symbolSize":280,"labelFontSize":10.5,"labelFontStyle":"italic","labelOffset":2,"padding":0,"symbolStrokeWidth":0}}}},
     {"mark":{"type":"errorbar","ticks":{"size":5,"color":"#000000"},"color":"#000000","thickness":1.1},
      "encoding":{"x":{"field":"cv","type":"nominal"},"y":{"field":"v","type":"quantitative","title":"mRNA expression level"},"yError":{"field":"e"}}}
    ]},
   {"data":{"name":"groups"},
    "layer":[
     {"transform":[{"filter":"datum.n == 5"}],"mark":{"type":"text","fontSize":10,"baseline":"middle"},"encoding":{"x":{"field":"mid","type":"nominal"},"y":{"datum":-11.6,"type":"quantitative"},"text":{"field":"group"}}},
     {"transform":[{"filter":"datum.n == 4"}],"mark":{"type":"text","fontSize":10,"baseline":"middle"},"encoding":{"x":{"field":"mid","type":"nominal","bandPosition":1.214},"y":{"datum":-11.6,"type":"quantitative"},"text":{"field":"group"}}},
     {"mark":{"type":"rule","color":"#999999","strokeWidth":1},"encoding":{"x":{"field":"g1","type":"nominal"},"x2":{"field":"g2"},"y":{"datum":-8.3,"type":"quantitative"}}}
    ]},
   {"data":{"values":[{"panel":"D"}]},"mark":{"type":"text","fontSize":14,"fontWeight":"bold","align":"left","baseline":"alphabetic"},
    "encoding":{"x":{"datum":"BDZ","type":"nominal","bandPosition":-2.65},"y":{"datum":30.95,"type":"quantitative"},"text":{"field":"panel"}}}
 ]}
]
}
